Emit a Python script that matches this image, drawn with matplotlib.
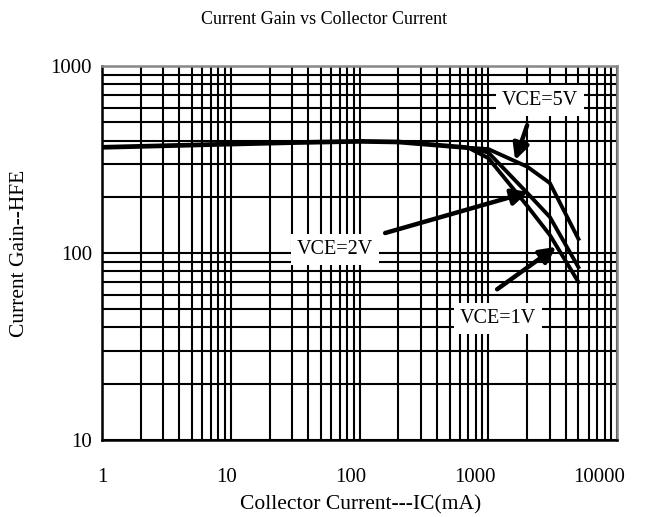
import numpy as np
import matplotlib
matplotlib.use("Agg")
import matplotlib.pyplot as plt
import matplotlib.transforms as mtransforms
from matplotlib.ticker import LogLocator, FixedLocator, NullFormatter

plt.rcParams['font.family'] = ['Liberation Serif', 'DejaVu Serif']

# collector current (mA) and HFE for each VCE curve
ic_common = [1, 3, 10, 30, 100, 200, 400, 700]
hfe_common = [368, 375, 383, 390, 396, 393, 378, 366]

ic_tail = [700, 1000, 2000, 3000, 5000]
hfe_5v = [366, 360, 290, 237, 119]
hfe_2v = [366, 345, 210, 156, 84]
hfe_1v = [366, 322, 179, 125, 70]

x_ticks = [1, 10, 100, 1000, 10000]
x_labels = ["1", "10", "100", "1000", "10000"]
y_ticks = [10, 100, 1000]
y_labels = ["10", "100", "1000"]

fig = plt.figure(figsize=(6.49, 5.17), dpi=100)
ax = fig.add_axes([0.157, 0.149, 0.794, 0.723])

ax.set_xscale('log')
ax.set_yscale('log')
ax.set_xlim(1, 10000)
ax.set_ylim(10, 1000)

# dense black log grid
ax.xaxis.set_major_locator(FixedLocator(x_ticks))
ax.yaxis.set_major_locator(FixedLocator(y_ticks))
ax.xaxis.set_minor_locator(LogLocator(base=10, subs=np.arange(2, 10)))
ax.yaxis.set_minor_locator(LogLocator(base=10, subs=np.arange(2, 10)))
ax.xaxis.set_minor_formatter(NullFormatter())
ax.yaxis.set_minor_formatter(NullFormatter())
ax.set_xticklabels([])
ax.set_yticklabels(y_labels)
ax.grid(True, which='both', color='black', lw=1.5)
ax.tick_params(which='both', length=0, labelsize=15)
ax.tick_params(axis='y', pad=7)

# x labels in the original drift slightly left of their grid lines
for i, (v, lab) in enumerate(zip(x_ticks, x_labels)):
    tr = mtransforms.offset_copy(ax.get_xaxis_transform(), fig=fig,
                                 x=-4.6 * i, y=-38, units='dots')
    ax.text(v, 0, lab, transform=tr, fontsize=15, ha='center', va='center')

for s in ['left', 'bottom']:
    ax.spines[s].set_color('black')
    ax.spines[s].set_linewidth(1.8)
for s in ['top', 'right']:
    ax.spines[s].set_color('#888888')
    ax.spines[s].set_linewidth(1.8)

# curves
ax.plot(ic_common, hfe_common, color='black', lw=3.4, solid_capstyle='butt')
for hfe in [hfe_5v, hfe_2v, hfe_1v]:
    ax.plot(ic_tail, hfe, color='black', lw=2.8, solid_joinstyle='miter')

box = dict(boxstyle='square,pad=0.3', fc='white', ec='none')
arrow = dict(arrowstyle='-|>', color='black', lw=3.2, mutation_scale=24,
             shrinkA=0, shrinkB=0)

ax.text(2523, 658, "VCE=5V", fontsize=14.5, ha='center', va='center', bbox=box)
ax.annotate("", xy=(1614, 314), xytext=(2000, 483), arrowprops=arrow)

ax.text(64.5, 104, "VCE=2V", fontsize=14.5, ha='center', va='center', bbox=box)
ax.annotate("", xy=(2036, 212), xytext=(158, 128), arrowprops=arrow)

ax.text(1191, 44.9, "VCE=1V", fontsize=14.5, ha='center', va='center', bbox=box)
ax.annotate("", xy=(3357, 108), xytext=(1169, 64), arrowprops=arrow)

fig.text(324 / 649, 1 - 20 / 517, "Current Gain vs Collector Current",
         fontsize=13, ha='center', va='center')
fig.text(361 / 649, 1 - 505 / 517, "Collector Current---IC(mA)",
         fontsize=15.5, ha='center', va='center')
fig.text(20 / 649, 1 - 253 / 517, "Current Gain--HFE", fontsize=15.5,
         rotation=90, ha='center', va='center')

fig.savefig("out.png", dpi=100)
